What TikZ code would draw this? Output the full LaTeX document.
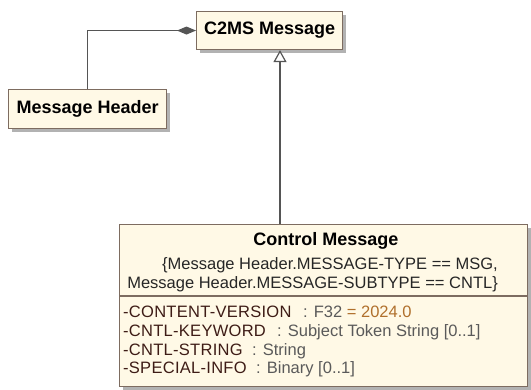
\documentclass[tikz,border=0pt]{standalone}
\usepackage{fontspec}
\setmainfont{Liberation Sans}
\usetikzlibrary{arrows.meta,shadows}
\definecolor{boxfill}{RGB}{255,249,230}
\definecolor{boxline}{RGB}{125,108,96}
\definecolor{linkline}{RGB}{85,85,85}
\definecolor{namecol}{RGB}{62,28,22}
\definecolor{typecol}{RGB}{90,90,90}
\definecolor{valuecol}{RGB}{176,112,44}

\begin{document}
\begin{tikzpicture}[x=1pt, y=-1pt,
	classbox/.style={draw=boxline, line width=1.1pt, fill=boxfill, inner sep=0pt, anchor=north west,
		drop shadow={shadow xshift=3pt, shadow yshift=-3pt, fill=black, opacity=0.3}},
	classname/.style={font=\fontsize{18}{21}\selectfont\bfseries, text=black, inner sep=0pt},
	plaintext/.style={font=\fontsize{16.5}{19}\selectfont, inner sep=0pt, text=black!85},
	attrlabel/.style={plaintext, anchor=base west, text=namecol, font=\fontsize{16.5}{19}\selectfont\addfontfeatures{LetterSpace=1.7}},
	typelabel/.style={plaintext, anchor=base west, text=typecol},
	link/.style={draw=linkline, line width=1.2pt}]
	\useasboundingbox (0,0) rectangle (531,390);
	\node[classbox, classname, minimum width=146pt, minimum height=38pt] (c2ms) at (196,11) {C2MS Message};
	\node[classbox, classname, minimum width=158pt, minimum height=39pt] (header) at (8,89) {Message Header};
	\node[classbox, minimum width=408pt, minimum height=162pt] (ctrl) at (119,224) {};
	\draw[boxline, line width=1.1pt] ([yshift=-72pt]ctrl.north west) -- ([yshift=-72pt]ctrl.north east);
	\node[classname, anchor=base] (ctrltitle) at (326,246) {Control Message};
	\node[plaintext, anchor=base east] (cons1) at (498,270) {\{Message Header.MESSAGE-TYPE == MSG,};
	\node[plaintext, anchor=base east] (cons2) at (498,289) {Message Header.MESSAGE-SUBTYPE == CNTL\}};
	\node[attrlabel] (attr1) at (123,318) {-CONTENT-VERSION};
	\node[typelabel] (type1) at (303,318) {: F32 \textcolor{valuecol}{= 2024.0}};
	\node[attrlabel] (attr2) at (123,337) {-CNTL-KEYWORD};
	\node[typelabel] (type2) at (277,337) {: Subject Token String [0..1]};
	\node[attrlabel] (attr3) at (123,356) {-CNTL-STRING};
	\node[typelabel] (type3) at (252,356) {: String};
	\node[attrlabel] (attr4) at (123,374) {-SPECIAL-INFO};
	\node[typelabel] (type4) at (256,374) {: Binary [0..1]};
	\draw[link, {Diamond[length=19pt, width=8pt]}-] (c2ms.west) -| (header.north);
	\coordinate (gentail) at (280,224);
	\draw[link, -{Triangle[open, length=12pt, width=13pt, fill=white]}] (gentail) -- (gentail |- c2ms.south);
\end{tikzpicture}
\end{document}
